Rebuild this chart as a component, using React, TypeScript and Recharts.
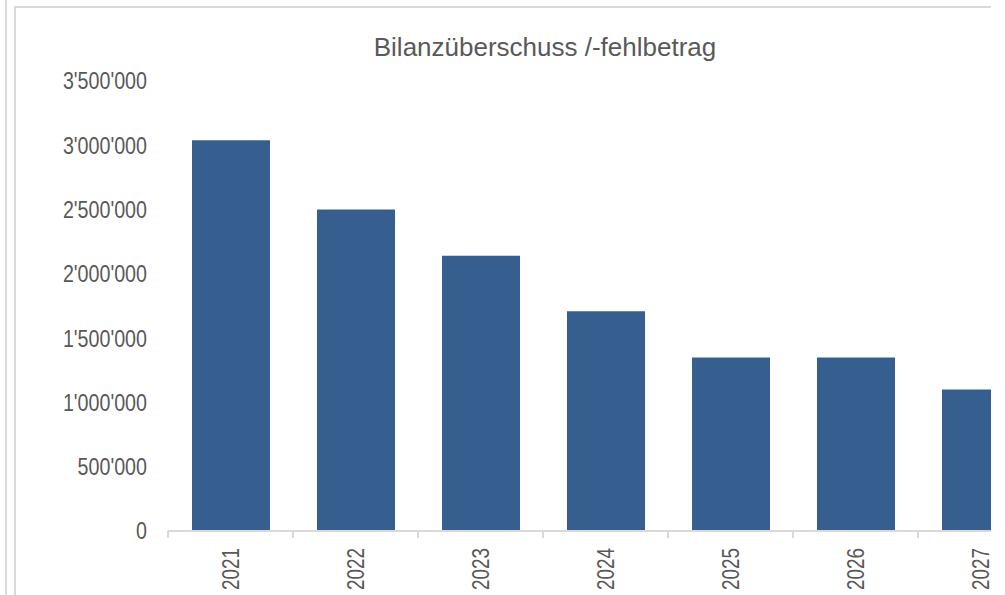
import { BarChart, Bar, XAxis, YAxis } from 'recharts';

const years = ['2021', '2022', '2023', '2024', '2025', '2026', '2027'];
const surplus = [3040000, 2500000, 2140000, 1710000, 1350000, 1350000, 1100000];
const yTicks = [0, 500000, 1000000, 1500000, 2000000, 2500000, 3000000, 3500000];

const data = years.map((year, i) => ({ year, value: surplus[i] }));

const LINE = '#d9d9d9';
const TEXT = '#595959';
const BAR = '#365f8f';
const FONT = "'Liberation Sans', Arial, sans-serif";
// the narrow face is not installed, so squeeze the regular one
const SQUEEZE = 0.82;

const fmt = (v: number) => String(v).replace(/\B(?=(\d{3})+(?!\d))/g, "'");

function YearTick(props: any) {
  const { x, y, payload } = props;
  const off = payload.offset || 0;
  return (
    <g>
      <line x1={x - off} y1={y - 8} x2={x - off} y2={y - 1} stroke={LINE} strokeWidth={2} />
      <text
        transform={`translate(${x} ${y + 9}) rotate(-90) scale(${SQUEEZE} 1)`}
        textAnchor="end"
        dy="0.35em"
        fill={TEXT}
        fontSize={23}
        fontFamily={FONT}
      >
        {payload.value}
      </text>
    </g>
  );
}

function AmountTick(props: any) {
  const { x, y, payload } = props;
  return (
    <text
      transform={`translate(${x} ${y}) scale(${SQUEEZE} 1)`}
      textAnchor="end"
      dy="0.35em"
      fill={TEXT}
      fontSize={24}
      fontFamily={FONT}
    >
      {fmt(payload.value)}
    </text>
  );
}

export default function App() {
  return (
    <div style={{ position: 'fixed', left: 0, top: 0, width: 1005, height: 595, background: '#fff', overflow: 'hidden' }}>
      <div style={{ position: 'absolute', left: 5, top: 0, width: 2, height: 595, background: LINE }} />
      <div
        style={{
          position: 'absolute',
          left: 14,
          top: 6,
          width: 975,
          height: 600,
          borderLeft: `2px solid ${LINE}`,
          borderTop: `2px solid ${LINE}`,
          overflow: 'hidden',
        }}
      >
        <svg width={975} height={70} style={{ position: 'absolute', left: 0, top: 0 }}>
          <text x={529} y={48} textAnchor="middle" fill={TEXT} fontSize={26} fontFamily={FONT}>
            Bilanzüberschuss /-fehlbetrag
          </text>
        </svg>
        <div style={{ position: 'absolute', left: 0, top: 0 }}>
          <BarChart width={1030} height={600} data={data} margin={{ top: 73, right: 3, bottom: 0, left: 0 }}>
            <XAxis
              dataKey="year"
              axisLine={{ stroke: LINE, strokeWidth: 2 }}
              tickLine={false}
              tick={<YearTick />}
              interval={0}
              height={77}
            />
            <YAxis
              width={152}
              domain={[0, 3500000]}
              ticks={yTicks}
              axisLine={false}
              tickLine={false}
              tickSize={0}
              tickMargin={21}
              tick={<AmountTick />}
            />
            <Bar dataKey="value" fill={BAR} barSize={78} isAnimationActive={false} />
          </BarChart>
        </div>
      </div>
    </div>
  );
}
